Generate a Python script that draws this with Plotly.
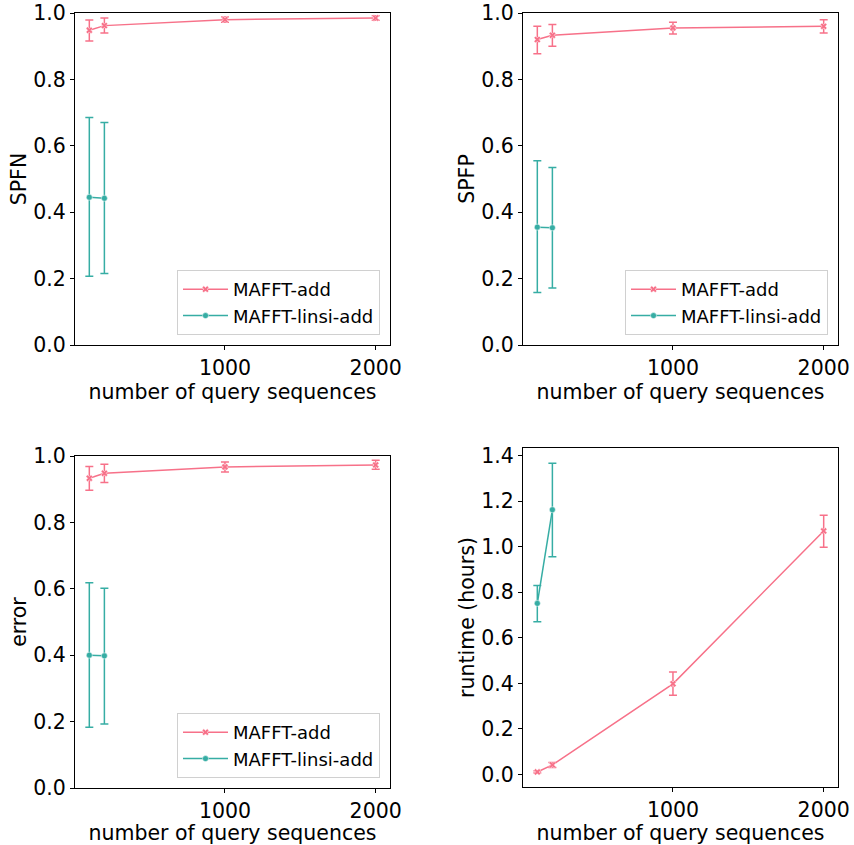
import plotly.graph_objects as go

W, H = 854, 845

n_query = [100, 200, 1000, 2000]

# MAFFT-add (all 4 sizes), MAFFT-linsi-add (first 2 sizes)
spfn_add = [0.948, 0.962, 0.980, 0.985]
spfn_add_lo = [0.916, 0.940, 0.972, 0.978]
spfn_add_hi = [0.979, 0.985, 0.988, 0.992]
spfn_linsi = [0.445, 0.442]
spfn_linsi_lo = [0.207, 0.215]
spfn_linsi_hi = [0.685, 0.670]

spfp_add = [0.920, 0.933, 0.955, 0.960]
spfp_add_lo = [0.877, 0.900, 0.937, 0.940]
spfp_add_hi = [0.960, 0.965, 0.972, 0.980]
spfp_linsi = [0.355, 0.353]
spfp_linsi_lo = [0.158, 0.172]
spfp_linsi_hi = [0.555, 0.535]

err_add = [0.933, 0.948, 0.967, 0.973]
err_add_lo = [0.897, 0.920, 0.952, 0.960]
err_add_hi = [0.968, 0.975, 0.982, 0.987]
err_linsi = [0.400, 0.398]
err_linsi_lo = [0.183, 0.193]
err_linsi_hi = [0.618, 0.602]

rt_add = [0.011, 0.042, 0.398, 1.069]
rt_add_lo = [0.006, 0.031, 0.348, 0.997]
rt_add_hi = [0.016, 0.053, 0.450, 1.138]
rt_linsi = [0.751, 1.162]
rt_linsi_lo = [0.670, 0.956]
rt_linsi_hi = [0.829, 1.366]

PINK = "#f77189"
TEAL = "#36ada4"
FONT = "DejaVu Sans"
FS = 20.5

panels = [
    # (ylabel, add, add_lo, add_hi, linsi, linsi_lo, linsi_hi, yrange, ytickvals, legend)
    ("SPFN", spfn_add, spfn_add_lo, spfn_add_hi, spfn_linsi, spfn_linsi_lo, spfn_linsi_hi,
     [0, 1], [0, 0.2, 0.4, 0.6, 0.8, 1.0], "legend"),
    ("SPFP", spfp_add, spfp_add_lo, spfp_add_hi, spfp_linsi, spfp_linsi_lo, spfp_linsi_hi,
     [0, 1], [0, 0.2, 0.4, 0.6, 0.8, 1.0], "legend2"),
    ("error", err_add, err_add_lo, err_add_hi, err_linsi, err_linsi_lo, err_linsi_hi,
     [0, 1], [0, 0.2, 0.4, 0.6, 0.8, 1.0], "legend3"),
    ("runtime (hours)", rt_add, rt_add_lo, rt_add_hi, rt_linsi, rt_linsi_lo, rt_linsi_hi,
     [-0.055, 1.433], [0, 0.2, 0.4, 0.6, 0.8, 1.0, 1.2, 1.4], None),
]

# pixel boxes: (left, right, top, bottom)
boxes = [
    (75, 390, 13, 345),
    (523, 838, 13, 345),
    (75, 390, 456, 788),
    (523, 838, 448, 787),
]

fig = go.Figure()
layout = dict(
    width=W, height=H,
    margin=dict(l=0, r=0, t=0, b=0),
    paper_bgcolor="white", plot_bgcolor="white",
    font=dict(family=FONT, size=FS, color="black"),
    template="none",
)

for i, (ylab, a, alo, ahi, l, llo, lhi, yr, ytv, leg) in enumerate(panels):
    k = "" if i == 0 else str(i + 1)
    xa, ya = "x" + k, "y" + k
    show = leg is not None
    common = {}
    if show:
        common["legend"] = leg
    fig.add_trace(go.Scatter(
        x=n_query, y=a, mode="lines+markers", name="MAFFT-add",
        xaxis=xa, yaxis=ya, showlegend=show,
        line=dict(color=PINK, width=1.5),
        marker=dict(symbol="x", size=6, color=PINK, line=dict(color="white", width=0.5)),
        error_y=dict(type="data", symmetric=False,
                     array=[h - v for h, v in zip(ahi, a)],
                     arrayminus=[v - lo for v, lo in zip(a, alo)],
                     color=PINK, thickness=1.5, width=4),
        **common,
    ))
    fig.add_trace(go.Scatter(
        x=n_query[:len(l)], y=l, mode="lines+markers", name="MAFFT-linsi-add",
        xaxis=xa, yaxis=ya, showlegend=show,
        line=dict(color=TEAL, width=1.5),
        marker=dict(symbol="circle", size=6, color=TEAL, line=dict(color="white", width=0.5)),
        error_y=dict(type="data", symmetric=False,
                     array=[h - v for h, v in zip(lhi, l)],
                     arrayminus=[v - lo for v, lo in zip(l, llo)],
                     color=TEAL, thickness=1.5, width=4),
        **common,
    ))
    L, R, T, B = boxes[i]
    axis_common = dict(
        showline=True, mirror=True, linecolor="black", linewidth=1,
        ticks="outside", ticklen=4, tickwidth=1, tickcolor="black",
        showgrid=False, zeroline=False, automargin=False,
        tickfont=dict(family=FONT, size=FS, color="black"),
    )
    layout["xaxis" + k] = dict(
        domain=[L / W, R / W], anchor=ya, range=[5, 2095],
        tickvals=[1000, 2000], ticktext=["1000", "2000"],
        title=dict(text="number of query sequences", standoff=1,
                   font=dict(family=FONT, size=FS, color="black")),
        **axis_common,
    )
    layout["yaxis" + k] = dict(
        domain=[1 - B / H, 1 - T / H], anchor=xa, range=yr,
        tickvals=ytv, ticktext=[f"{v:.1f}" for v in ytv],
        title=dict(text=ylab, standoff=1,
                   font=dict(family=FONT, size=FS, color="black")),
        **axis_common,
    )
    if show:
        layout[leg] = dict(
            x=(R - 10) / W, y=1 - (B - 10) / H, xanchor="right", yanchor="bottom",
            bgcolor="rgba(255,255,255,0.8)", bordercolor="#d0d0d0", borderwidth=1,
            font=dict(family=FONT, size=18, color="black"),
            itemwidth=45,
        )

fig.update_layout(**layout)
fig.write_html("out.html")
